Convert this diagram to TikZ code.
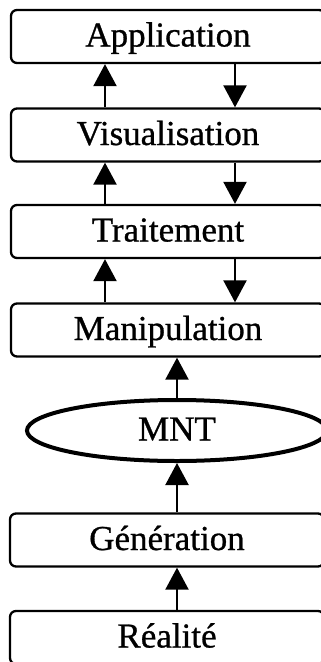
\documentclass[tikz,border=0pt]{standalone}
\usepackage{fontspec}
\setmainfont{Liberation Serif}
\newfontfamily\scanfont{Liberation Serif}[FakeBold=0.8]
\usetikzlibrary{arrows.meta,shapes.geometric}
\begin{document}
\begin{tikzpicture}[x=1pt,y=1pt,
  lbl/.style={inner sep=0pt, text height=24pt, text depth=4pt, font=\scanfont\fontsize{35}{40}\selectfont},
  box/.style={lbl, draw, line width=2.3pt, rounded corners=6pt, minimum width=314pt, minimum height=53pt},
  oval/.style={lbl, ellipse, draw, line width=4pt, minimum width=300pt, minimum height=61pt},
  arr/.style={line width=2.2pt, -{Triangle[width=23pt,length=22pt]}}]
\useasboundingbox (0,0) rectangle (321,-662);
\node[box] (app) at (168,-36.5) {Application};
\node[box] (vis) at (168,-135) {Visualisation};
\node[box] (tra) at (168,-231.5) {Traitement};
\node[box] (man) at (168,-330) {Manipulation};
\node[oval] (mnt) at (177,-430.5) {MNT};
\node[box] (gen) at (167,-540) {Génération};
\node[box] (rea) at (167,-637.5) {Réalité};
\draw[arr] ([xshift=-63pt]vis.north) -- ([xshift=-63pt]app.south);
\draw[arr] ([xshift=67pt]app.south) -- ([xshift=67pt]vis.north);
\draw[arr] ([xshift=-63pt]tra.north) -- ([xshift=-63pt]vis.south);
\draw[arr] ([xshift=67pt]vis.south) -- ([xshift=67pt]tra.north);
\draw[arr] ([xshift=-63pt]man.north) -- ([xshift=-63pt]tra.south);
\draw[arr] ([xshift=67pt]tra.south) -- ([xshift=67pt]man.north);
\draw[arr] (mnt.north) -- (mnt.north |- man.south);
\draw[arr] (gen.north -| mnt.north) -- (mnt.south);
\draw[arr] (rea.north -| mnt.north) -- (gen.south -| mnt.north);
\end{tikzpicture}
\end{document}
